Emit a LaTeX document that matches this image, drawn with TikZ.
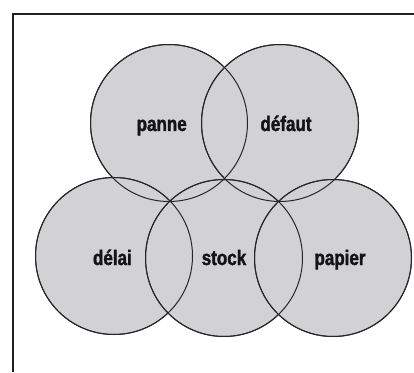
\documentclass[tikz,border=0pt]{standalone}
\usepackage{fontspec}
\newfontfamily\labelfont[FakeStretch=0.81,FakeBold=1.6]{Liberation Sans Bold}
\definecolor{circfill}{HTML}{D2D2D5}
\definecolor{framecol}{HTML}{222222}
\newcommand{\lblfmt}{\fontsize{21}{21}\labelfont}
\tikzset{
  set/.style={circle, draw=black!85, line width=1pt, fill=circfill, minimum size=157pt, inner sep=0pt},
  lbl/.style={font=\lblfmt, text=black!92, inner sep=0pt, anchor=base},
}
\begin{document}
\begin{tikzpicture}[x=1pt,y=1pt]
\useasboundingbox (0,0) rectangle (414,372);
\fill[white] (0,0) rectangle (414,372);
% frame
\coordinate (fbl) at (13,0);
\coordinate (ftl) at (13,358);
\coordinate (ftr) at (414,358);
\draw[framecol, line width=1.3pt] (fbl) -- (ftl) -- (ftr);
% circles
\node[set] (panne) at (169,249) {};
\node[set] (defaut) at (280,249) {};
\node[set] (delai) at (114,116) {};
\node[set] (stock) at (224,114) {};
\node[set] (papier) at (333,114) {};
% outlines redrawn on top so overlaps show all circle edges
\foreach \c in {panne,defaut,delai,stock,papier}
  \draw[black!85, line width=1pt] (\c) circle (78.5pt);
% labels
\node[lbl] (tpanne) at (161.7,241) {panne};
\node[lbl] (tdefaut) at (286,241) {défaut};
\node[lbl] (tdelai) at (112.4,107) {délai};
\node[lbl] (tstock) at (224,107) {stock};
\node[lbl] (tpapier) at (340,107) {papier};
\end{tikzpicture}
\end{document}
